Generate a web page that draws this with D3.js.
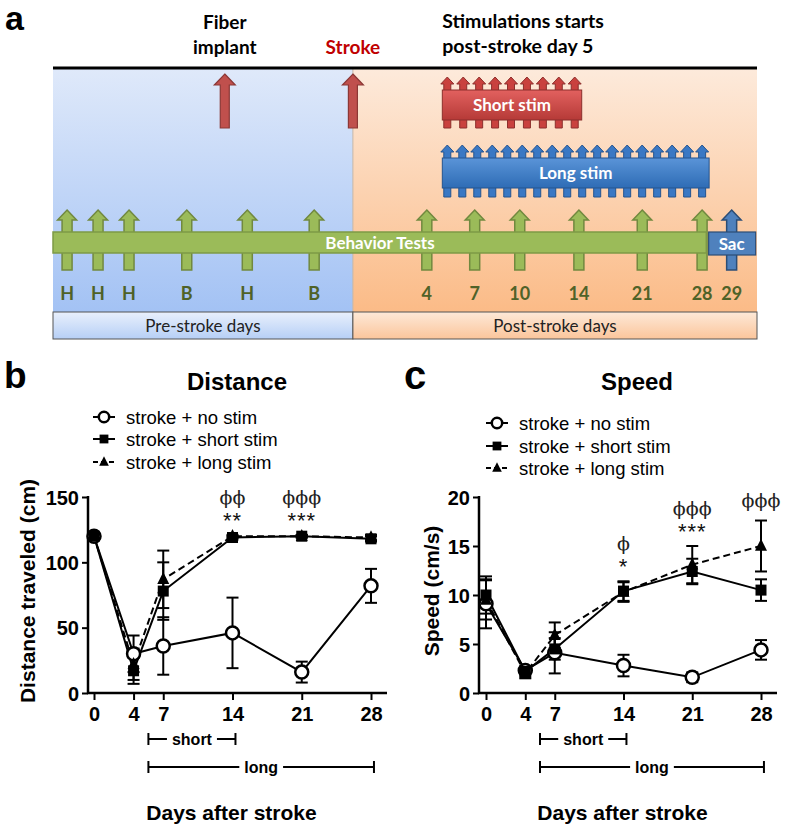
<!DOCTYPE html>
<html><head><meta charset="utf-8">
<script src="https://cdn.jsdelivr.net/npm/d3@7"></script>
<style>body{margin:0;background:#fff} svg{display:block}</style>
</head><body>
<svg id="fig" width="787" height="830"></svg>
<script>
// ---------------- data ----------------
const days = [0, 4, 7, 14, 21, 28];
const seriesNames = ["stroke + no stim", "stroke + short stim", "stroke + long stim"];

const distNoStim    = [120, 30, 36, 46, 16, 82];
const distNoStimErr = [2, 14, 22, 27, 8, 13];
const distShort     = [120, 17, 78, 119, 120, 118];
const distShortErr  = [2, 10, 22, 1, 1, 2];
const distLong      = [120, 22, 87, 120, 120, 119];
const distLongErr   = [2, 12, 22, 1, 1, 2];

const speedNoStim    = [9.1, 2.3, 4.1, 2.8, 1.6, 4.4];
const speedNoStimErr = [2.5, 0.4, 2.1, 1.1, 0.5, 1.0];
const speedShort     = [10.0, 2.2, 4.5, 10.4, 12.4, 10.5];
const speedShortErr  = [1.9, 0.5, 1.1, 1.0, 1.3, 1.1];
const speedLong      = [9.5, 2.0, 5.9, 10.3, 13.1, 15.0];
const speedLongErr   = [2.0, 0.5, 1.3, 1.0, 1.9, 2.6];

const distTicks = [0, 50, 100, 150];
const speedTicks = [0, 5, 10, 15, 20];

const distAnnot  = [{day: 14, phi: "\u03D5\u03D5", star: "**"}, {day: 21, phi: "\u03D5\u03D5\u03D5", star: "***"}];
const speedAnnot = [{day: 14, phi: "\u03D5", star: "*"}, {day: 21, phi: "\u03D5\u03D5\u03D5", star: "***"}, {day: 28, phi: "\u03D5\u03D5\u03D5", star: ""}];

const shortPeriod = [5.5, 14.3];
const longPeriod  = [5.5, 28.3];

// timeline schematic (percent of timeline width)
const preTestPos    = [2.0, 6.4, 10.8, 19.0, 27.6, 37.1];
const preTestLabels = ["H", "H", "H", "B", "H", "B"];
const postTestPos    = [53.1, 59.9, 66.3, 74.7, 83.7, 92.2];
const postTestLabels = ["4", "7", "10", "14", "21", "28"];
const sacPos = 96.4, sacLabel = "29";
const implantPos = 24.4, strokePos = 42.6;
const behaviorSpan = [0, 92.8];
const shortStimSpan = [55.3, 75.1], shortStimCount = 9;
const longStimSpan = [55.3, 93.2], longStimCount = 18;

// ---------------- drawing ----------------
const svg = d3.select("#fig");
const defs = svg.append("defs");
function grad(id, c0, c1) {
  const g = defs.append("linearGradient").attr("id", id).attr("x1", 0).attr("y1", 0).attr("x2", 0).attr("y2", 1);
  g.append("stop").attr("offset", "0%").attr("stop-color", c0);
  g.append("stop").attr("offset", "100%").attr("stop-color", c1);
}
grad("gBlue", "#dfe9fa", "#a3c2f4");
grad("gOrange", "#fdeadb", "#fbbb87");
grad("gBlueBox", "#e9f0fc", "#b6cff6");
grad("gOrangeBox", "#fde9d8", "#fbc59b");
grad("gShort", "#e2615f", "#b53a37");
grad("gLong", "#5a94d8", "#2e6cb5");

const FA = "Lato, 'Open Sans', sans-serif";
const FB = "'Liberation Sans', Arial, sans-serif";
const FPHI = "'DejaVu Serif', 'Liberation Serif', serif";

// ===== Panel a =====
const tx = d3.scaleLinear().domain([0, 100]).range([53, 757]);
const a = svg.append("g");
a.append("text").attr("x", 5).attr("y", 30).text("a")
  .style("font", `bold 34px ${FB}`);

// backgrounds
a.append("rect").attr("x", tx(0)).attr("y", 69).attr("width", tx(strokePos) - tx(0) + 10).attr("height", 243).attr("fill", "url(#gBlue)");
a.append("rect").attr("x", tx(strokePos)).attr("y", 69).attr("width", tx(100) - tx(strokePos)).attr("height", 243).attr("fill", "url(#gOrange)");
a.append("line").attr("x1", tx(strokePos)).attr("x2", tx(strokePos)).attr("y1", 69).attr("y2", 312).attr("stroke", "#c6b7a8").attr("stroke-width", 1);
// label boxes
a.append("rect").attr("x", tx(0)).attr("y", 312).attr("width", tx(strokePos) - tx(0)).attr("height", 27)
  .attr("fill", "url(#gBlueBox)").attr("stroke", "#555").attr("stroke-width", 1);
a.append("rect").attr("x", tx(strokePos)).attr("y", 312).attr("width", tx(100) - tx(strokePos)).attr("height", 27)
  .attr("fill", "url(#gOrangeBox)").attr("stroke", "#555").attr("stroke-width", 1);
a.append("text").attr("x", (tx(0) + tx(strokePos)) / 2).attr("y", 332).attr("text-anchor", "middle")
  .text("Pre-stroke days").style("font", `17px ${FA}`).attr("fill", "#222");
a.append("text").attr("x", (tx(strokePos) + tx(100)) / 2).attr("y", 332).attr("text-anchor", "middle")
  .text("Post-stroke days").style("font", `17px ${FA}`).attr("fill", "#222");
// top black line
a.append("line").attr("x1", tx(0)).attr("x2", tx(100)).attr("y1", 68).attr("y2", 68).attr("stroke", "#000").attr("stroke-width", 3);

// header texts
a.append("text").attr("x", tx(implantPos)).attr("y", 29).attr("text-anchor", "middle").text("Fiber").style("font", `bold 19px ${FA}`);
a.append("text").attr("x", tx(implantPos)).attr("y", 54).attr("text-anchor", "middle").text("implant").style("font", `bold 19px ${FA}`);
a.append("text").attr("x", tx(strokePos)).attr("y", 54).attr("text-anchor", "middle").text("Stroke").style("font", `bold 19px ${FA}`).attr("fill", "#c00000");
a.append("text").attr("x", tx(shortStimSpan[0])).attr("y", 28).text("Stimulations starts").style("font", `bold 19.5px ${FA}`);
a.append("text").attr("x", tx(shortStimSpan[0])).attr("y", 53).text("post-stroke day 5").style("font", `bold 19.5px ${FA}`);

// arrow helper
function arrow(g, cx, top, bottom, shaftW, headW, headH, fill, stroke, sw) {
  const p = [[cx, top], [cx + headW / 2, top + headH], [cx + shaftW / 2, top + headH], [cx + shaftW / 2, bottom],
             [cx - shaftW / 2, bottom], [cx - shaftW / 2, top + headH], [cx - headW / 2, top + headH]];
  g.append("path").attr("d", "M" + p.map(d => d.join(",")).join("L") + "Z")
    .attr("fill", fill).attr("stroke", stroke).attr("stroke-width", sw).attr("stroke-linejoin", "miter");
}
// red arrows
arrow(a, tx(implantPos), 74, 128, 9, 21, 11, "#c0504d", "#8c3836", 1.2);
arrow(a, tx(strokePos), 74, 128, 9, 21, 11, "#c0504d", "#8c3836", 1.2);

// stim boxes
function stimBox(span, count, top, boxTop, boxBot, bottom, fillId, aFill, aStroke, label) {
  const x0 = tx(span[0]), x1 = tx(span[1]);
  const ax = d3.scaleLinear().domain([0, count - 1]).range([x0 + 5, x1 - 7]);
  d3.range(count).forEach(i => arrow(a, ax(i), top, bottom, 7, 13, 7, aFill, aStroke, 1));
  a.append("rect").attr("x", x0).attr("y", boxTop).attr("width", x1 - x0).attr("height", boxBot - boxTop)
    .attr("fill", `url(#${fillId})`).attr("stroke", aStroke).attr("stroke-width", 1);
  a.append("text").attr("x", (x0 + x1) / 2).attr("y", (boxTop + boxBot) / 2 + 6).attr("text-anchor", "middle")
    .text(label).attr("fill", "#fff").style("font", `bold 17px ${FA}`);
}
stimBox(shortStimSpan, shortStimCount, 77, 90, 120, 128, "gShort", "#c9413e", "#8c2f2c", "Short stim");
stimBox(longStimSpan, longStimCount, 145, 158, 188, 197, "gLong", "#3a78c4", "#24548f", "Long stim");

// behavior arrows
preTestPos.concat(postTestPos).forEach(p => arrow(a, tx(p), 210, 270, 10, 19, 10, "#9bbb59", "#71893f", 1.5));
arrow(a, tx(sacPos), 210, 270, 10, 19, 10, "#4f81bd", "#2c4d75", 1.5);
// behavior bar
a.append("rect").attr("x", tx(behaviorSpan[0])).attr("y", 232).attr("width", tx(behaviorSpan[1]) - tx(behaviorSpan[0])).attr("height", 21)
  .attr("fill", "#9bbb59").attr("stroke", "#7d9a46").attr("stroke-width", 1.5);
a.append("text").attr("x", 380).attr("y", 248.5).attr("text-anchor", "middle").text("Behavior Tests")
  .attr("fill", "#fff").style("font", `bold 17px ${FA}`);
// sac box
a.append("rect").attr("x", tx(sacPos) - 23).attr("y", 232).attr("width", 47).attr("height", 23)
  .attr("fill", "#4f81bd").attr("stroke", "#2c4d75").attr("stroke-width", 1.2);
a.append("text").attr("x", tx(sacPos)).attr("y", 249.5).attr("text-anchor", "middle").text("Sac")
  .attr("fill", "#fff").style("font", `bold 17px ${FA}`);
// day labels
preTestPos.forEach((p, i) => a.append("text").attr("x", tx(p)).attr("y", 300).attr("text-anchor", "middle")
  .text(preTestLabels[i]).attr("fill", "#4f6228").style("font", `bold 18px ${FA}`));
postTestPos.forEach((p, i) => a.append("text").attr("x", tx(p)).attr("y", 300).attr("text-anchor", "middle")
  .text(postTestLabels[i]).attr("fill", "#4f6228").style("font", `bold 18px ${FA}`));
a.append("text").attr("x", tx(sacPos)).attr("y", 300).attr("text-anchor", "middle")
  .text(sacLabel).attr("fill", "#4f6228").style("font", `bold 18px ${FA}`);

// ===== Panels b & c =====
function panel(cfg) {
  const g = svg.append("g");
  const x = d3.scaleLinear().domain([0, 28]).range(cfg.xr);
  const y = d3.scaleLinear().domain(cfg.yd).range([693, cfg.ytop]);
  const axX = cfg.axX;

  g.append("text").attr("x", cfg.lx).attr("y", cfg.ly).text(cfg.letter).style("font", `bold ${cfg.lsize}px ${FB}`);
  g.append("text").attr("x", cfg.tx).attr("y", 390).attr("text-anchor", "middle").text(cfg.title).style("font", `bold 24px ${FB}`);

  // legend
  const leg = g.append("g");
  cfg.legY.forEach((ly, i) => {
    const x0 = cfg.legX, x1 = cfg.legX + 22, xm = (x0 + x1) / 2;
    leg.append("line").attr("x1", x0).attr("x2", x1).attr("y1", ly).attr("y2", ly)
      .attr("stroke", "#000").attr("stroke-width", 2).attr("stroke-dasharray", i === 2 ? "5,3" : null);
    marker(leg, i, xm, ly, 0.8);
    leg.append("text").attr("x", x1 + 11).attr("y", ly + 6.5).text(seriesNames[i]).style("font", `18.5px ${FB}`);
  });

  // y axis
  const ya = g.append("g").attr("transform", `translate(${axX},0)`)
    .call(d3.axisLeft(y).tickValues(cfg.yticks).tickSize(6).tickSizeOuter(0).tickPadding(3));
  ya.select(".domain").remove();
  ya.selectAll(".tick line").attr("stroke", "#000").attr("stroke-width", 2);
  ya.selectAll(".tick text").style("font", `bold 20px ${FB}`).attr("fill", "#000").attr("dy", "0.35em");
  g.append("line").attr("x1", axX).attr("x2", axX).attr("y1", y(cfg.yd[1]) - 1).attr("y2", 694).attr("stroke", "#000").attr("stroke-width", 2.5);
  // x axis
  const xa = g.append("g").attr("transform", "translate(0,693)")
    .call(d3.axisBottom(x).tickValues(days).tickSize(7).tickSizeOuter(0).tickPadding(6));
  xa.select(".domain").remove();
  xa.selectAll(".tick line").attr("stroke", "#000").attr("stroke-width", 2);
  xa.selectAll(".tick text").style("font", `bold 20px ${FB}`).attr("fill", "#000").attr("dy", "0.75em");
  g.append("line").attr("x1", axX - 1).attr("x2", cfg.xend).attr("y1", 693).attr("y2", 693).attr("stroke", "#000").attr("stroke-width", 2.5);

  // axis titles
  g.append("text").attr("transform", `translate(${cfg.ytx},${591}) rotate(-90)`).attr("text-anchor", "middle")
    .text(cfg.ytitle).style("font", `bold 21px ${FB}`);
  g.append("text").attr("x", (x(0) + x(28)) / 2 - 1).attr("y", 820).attr("text-anchor", "middle")
    .text("Days after stroke").style("font", `bold 21px ${FB}`);

  // stim brackets
  function bracket(period, yy, label) {
    const x0 = x(period[0]), x1 = x(period[1]), xm = (x0 + x1) / 2;
    const t = g.append("text").attr("x", xm).attr("y", yy + 6).attr("text-anchor", "middle").text(label).style("font", `bold 16px ${FB}`);
    const w = t.node().getComputedTextLength();
    [[x0, xm - w / 2 - 5], [xm + w / 2 + 5, x1]].forEach(([p, q]) =>
      g.append("line").attr("x1", p).attr("x2", q).attr("y1", yy).attr("y2", yy).attr("stroke", "#000").attr("stroke-width", 2));
    [x0, x1].forEach(p => g.append("line").attr("x1", p).attr("x2", p).attr("y1", yy - 6).attr("y2", yy + 6).attr("stroke", "#000").attr("stroke-width", 2));
  }
  bracket(shortPeriod, 739, "short");
  bracket(longPeriod, 767, "long");

  // series
  const series = cfg.series;
  const order = [0, 2, 1];
  order.forEach(si => {
    const s = series[si];
    days.forEach((d, i) => {
      const lo = y(s.v[i] - s.e[i]), hi = y(s.v[i] + s.e[i]), xx = x(d);
      g.append("line").attr("x1", xx).attr("x2", xx).attr("y1", lo).attr("y2", hi).attr("stroke", "#000").attr("stroke-width", 2);
      [lo, hi].forEach(yy => g.append("line").attr("x1", xx - 6).attr("x2", xx + 6).attr("y1", yy).attr("y2", yy).attr("stroke", "#000").attr("stroke-width", 2));
    });
  });
  order.forEach(si => {
    const s = series[si];
    const line = d3.line().x((d, i) => x(days[i])).y(d => y(d));
    g.append("path").attr("d", line(s.v)).attr("fill", "none").attr("stroke", "#000").attr("stroke-width", 2)
      .attr("stroke-dasharray", si === 2 ? "7,4" : null);
  });
  order.forEach(si => {
    const s = series[si];
    days.forEach((d, i) => marker(g, si, x(d), y(s.v[i]), 1));
  });

  // annotations
  cfg.annot.forEach(an => {
    const i = days.indexOf(an.day);
    const top = d3.min(series.map(s => y(s.v[i] + s.e[i])));
    const xx = x(an.day);
    if (an.star) {
      g.append("text").attr("x", xx).attr("y", top - 7).attr("text-anchor", "middle").text(an.star)
        .style("font", `22px ${FB}`).attr("letter-spacing", "1px").attr("fill", "#111");
      g.append("text").attr("x", xx).attr("y", top - 31).attr("text-anchor", "middle").text(an.phi)
        .style("font", `19px ${FPHI}`).attr("fill", "#222");
    } else {
      g.append("text").attr("x", xx).attr("y", top - 14).attr("text-anchor", "middle").text(an.phi)
        .style("font", `19px ${FPHI}`).attr("fill", "#222");
    }
  });
}

function marker(g, si, cx, cy, k) {
  if (si === 0) {
    g.append("circle").attr("cx", cx).attr("cy", cy).attr("r", 6.5 * k).attr("fill", "#fff").attr("stroke", "#000").attr("stroke-width", 2.5);
  } else if (si === 1) {
    const s = 11 * k;
    g.append("rect").attr("x", cx - s / 2).attr("y", cy - s / 2).attr("width", s).attr("height", s).attr("fill", "#000");
  } else {
    const s = 12 * k;
    g.append("path").attr("d", `M${cx},${cy - s * 0.6}L${cx + s / 2},${cy + s * 0.4}L${cx - s / 2},${cy + s * 0.4}Z`).attr("fill", "#000");
  }
}

panel({
  letter: "b", lx: 4, ly: 388, lsize: 37, title: "Distance", tx: 237,
  legX: 93, legY: [417, 439, 462],
  xr: [94, 371], yd: [0, 150], ytop: 497, yticks: distTicks, axX: 88, xend: 387,
  ytitle: "Distance traveled (cm)", ytx: 35,
  series: [{v: distNoStim, e: distNoStimErr}, {v: distShort, e: distShortErr}, {v: distLong, e: distLongErr}],
  annot: distAnnot
});
panel({
  letter: "c", lx: 404, ly: 389, lsize: 40, title: "Speed", tx: 637,
  legX: 486, legY: [423, 446, 468],
  xr: [486, 761], yd: [0, 20], ytop: 497, yticks: speedTicks, axX: 479, xend: 777,
  ytitle: "Speed (cm/s)", ytx: 439,
  series: [{v: speedNoStim, e: speedNoStimErr}, {v: speedShort, e: speedShortErr}, {v: speedLong, e: speedLongErr}],
  annot: speedAnnot
});
</script>
</body></html>
